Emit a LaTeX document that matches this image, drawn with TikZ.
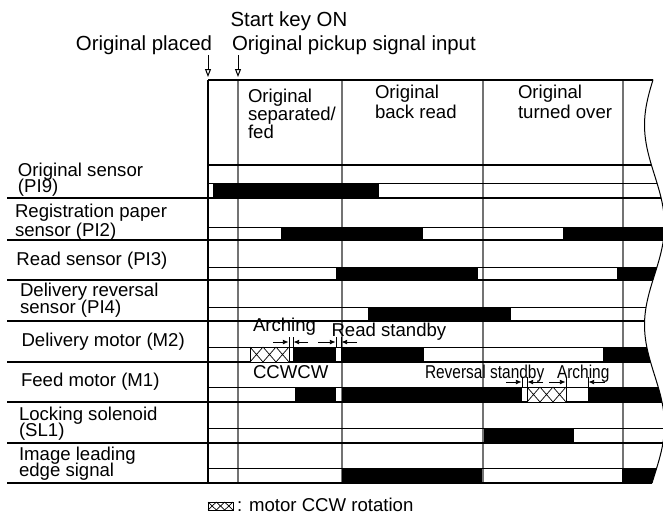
\documentclass[tikz,border=0pt]{standalone}
\usepackage{fontspec}
\setmainfont{Liberation Sans}
\usetikzlibrary{arrows.meta}

\begin{document}
\begin{tikzpicture}[x=0.5pt, y=-0.5pt,
  every node/.style={inner sep=0pt, outer sep=0pt},
  toptext/.style={font=\fontsize{10.2}{12}\selectfont},
  colhead/.style={font={\fontsize{9.3}{#1}\selectfont\lineskiplimit-20pt\relax}, align=left, anchor=base west},
  colhead/.default=9.2,
  rowlabel/.style={font={\fontsize{9.3}{#1}\selectfont\lineskiplimit-20pt\relax}, align=left, anchor=base west},
  rowlabel/.default=8.3,
  note/.style={font=\fontsize{9.3}{11}\selectfont, anchor=base west},
  rowline/.style={line width=0.65pt},
  levelline/.style={line width=0.5pt},
  phaseline/.style={line width=0.6pt, black!55},
  bar/.style={fill=black},
  ccwbox/.style={draw, line width=0.4pt, fill=white},
  dimarrow/.style={line width=0.4pt, -{Latex[length=2.8pt,width=2.4pt]}},
  dimtick/.style={line width=0.4pt},
  event/.style={line width=0.5pt, -{Triangle[open,length=4pt,width=3pt]}}]
  \useasboundingbox (0,0) rectangle (663,520);

  % Event texts
  \node[toptext, anchor=base west] (startKey) at (230.5,26.5) {Start key ON};
  \node[toptext, anchor=base west] (pickup) at (232,50) {Original pickup signal input};
  \node[toptext, anchor=base east] (placed) at (212,50) {Original placed};
  \coordinate (placedTop) at (208,55);
  \coordinate (startTop) at (238,55);
  \draw[event] (placedTop) -- ++(0,22);
  \draw[event] (startTop) -- ++(0,22);

  % Chart, cut off by the wavy edge
  \begin{scope}
    \clip (0,70) -- plot[domain=70:495, samples=90, variable=\t] ({654.5-10*cos(1.8*(\t-125))},\t) -- (0,495) -- cycle;
    % phase lines
    \foreach \px in {238,342,483,623}
      \draw[phaseline] (\px,80) -- (\px,483);
    % signal bars
    \fill[bar] (213,183) rectangle (379,198);
    \fill[bar] (281,227) rectangle (423,240);
    \fill[bar] (563,227) rectangle (680,240);
    \fill[bar] (336,267) rectangle (478,280);
    \fill[bar] (617,267) rectangle (680,280);
    \fill[bar] (368,307) rectangle (511,321);
    \fill[bar] (293,347) rectangle (336,362);
    \fill[bar] (341,347) rectangle (424,362);
    \fill[bar] (603,347) rectangle (680,362);
    \fill[bar] (295,387) rectangle (336,402);
    \fill[bar] (342,387) rectangle (522,402);
    \fill[bar] (588,387) rectangle (680,402);
    \fill[bar] (484,428) rectangle (574,443);
    \fill[bar] (342,468) rectangle (482,483);
    \fill[bar] (622,468) rectangle (680,483);
    % level lines
    \draw[line width=1pt] (208,80) -- (700,80);
    \draw[rowline] (208,165) -- (700,165);
    \foreach \hy in {183,227,267,307,347,387,428,468}
      \draw[levelline] (208,\hy) -- (700,\hy);
    \foreach \ly in {198,240,280,321,362,402,443,483}
      \draw[rowline] (7,\ly) -- (700,\ly);
    \draw[line width=1pt] (208,80) -- (208,483);
  \end{scope}
  \draw[line width=0.5pt] plot[domain=80:483, samples=90, variable=\t] ({654.5-10*cos(1.8*(\t-125))},\t);

  % CCW rotation boxes
  \foreach \bx/\by/\bw/\bh in {250/347/13/15, 527/387/13/15, 208/502/8.33/8} {
    \draw[ccwbox] (\bx,\by) rectangle ++({3*\bw},\bh);
    \foreach \k in {0,1,2}
      \draw[line width=0.35pt] ({\bx+\k*\bw},\by) -- ++(\bw,\bh) ++(-\bw,0) -- ++(\bw,-\bh);
  }

  % Column heads
  \node[colhead=9] (hdSep) at (248,138) {Original\\separated/\\fed};
  \node[colhead=10] (hdBack) at (375,118.3) {Original\\back read};
  \node[colhead=10] (hdTurn) at (518,118.3) {Original\\turned over};

  % Row labels
  \node[rowlabel=8] (lblPI9) at (18,192) {Original sensor\\(PI9)};
  \node[rowlabel=9.2] (lblPI2) at (15,236) {Registration paper\\sensor (PI2)};
  \node[rowlabel] (lblPI3) at (16.5,265) {Read sensor (PI3)};
  \node[rowlabel=8.15] (lblPI4) at (20,313) {Delivery reversal\\sensor (PI4)};
  \node[rowlabel] (lblM2) at (21.5,346.5) {Delivery motor (M2)};
  \node[rowlabel] (lblM1) at (21,386.5) {Feed motor (M1)};
  \node[rowlabel=8.35] (lblSL1) at (19,436.7) {Locking solenoid\\(SL1)};
  \node[rowlabel=8.35] (lblImg) at (19,476.7) {Image leading\\edge signal};

  % Timing notes
  \node[note] (archM2) at (253,331.5) {Arching};
  \node[note] (readStby) at (331.5,336.5) {Read standby};
  \node[note] (ccwcw) at (253,378.3) {CCWCW};
  \node[note] (revStby) at (425,378) {\scalebox{0.83}[1]{Reversal standby}};
  \node[note] (archM1) at (557,378) {\scalebox{0.83}[1]{Arching}};

  % Interval marks, delivery motor
  \foreach \tx in {289,293,336,341}
    \draw[dimtick] (\tx,337) -- (\tx,347);
  \draw[dimarrow] (273,342) -- (288.5,342);
  \draw[dimarrow] (308,342) -- (293.5,342);
  \draw[dimarrow] (318,342) -- (335.5,342);
  \draw[dimarrow] (357,342) -- (341.5,342);
  % Interval marks, feed motor
  \foreach \tx in {522,527,566,588}
    \draw[dimtick] (\tx,377) -- (\tx,387);
  \draw[dimarrow] (506,382) -- (521.5,382);
  \draw[dimarrow] (543,382) -- (527.5,382);
  \draw[dimarrow] (549,382) -- (565.5,382);
  \draw[dimarrow] (605,382) -- (588.5,382);

  % Legend
  \node[note] (legText) at (237,511.5) {: motor CCW rotation};
\end{tikzpicture}
\end{document}
